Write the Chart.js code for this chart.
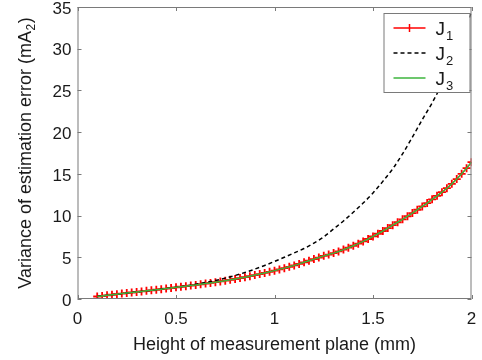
<!DOCTYPE html>
<html>
<head>
<meta charset="utf-8">
<script src="https://cdn.jsdelivr.net/npm/chart.js@4.4.1/dist/chart.umd.min.js"></script>
<style>
  html, body { margin: 0; padding: 0; background: #fff; }
  #wrap { width: 482px; height: 360px; }
</style>
</head>
<body>
<div id="wrap"><canvas id="chart" width="482" height="360"></canvas></div>
<script>
// ===== DATA =====
const xFine = [
  0.100, 0.125, 0.150, 0.175, 0.200, 0.225, 0.250, 0.275, 0.300, 0.325,
  0.350, 0.375, 0.400, 0.425, 0.450, 0.475, 0.500, 0.525, 0.550, 0.575,
  0.600, 0.625, 0.650, 0.675, 0.700, 0.725, 0.750, 0.775, 0.800, 0.825,
  0.850, 0.875, 0.900, 0.925, 0.950, 0.975, 1.000, 1.025, 1.050, 1.075,
  1.100, 1.125, 1.150, 1.175, 1.200, 1.225, 1.250, 1.275, 1.300, 1.325,
  1.350, 1.375, 1.400, 1.425, 1.450, 1.475, 1.500, 1.525, 1.550, 1.575,
  1.600, 1.625, 1.650, 1.675, 1.700, 1.725, 1.750, 1.775, 1.800, 1.825,
  1.850, 1.875, 1.900, 1.925, 1.950, 1.975, 2.000
];
const j1 = [
  0.30, 0.37, 0.44, 0.51, 0.58, 0.65, 0.72, 0.78, 0.85, 0.91,
  0.98, 1.04, 1.11, 1.18, 1.25, 1.32, 1.40, 1.47, 1.54, 1.61,
  1.69, 1.77, 1.85, 1.93, 2.02, 2.11, 2.20, 2.30, 2.40, 2.51,
  2.62, 2.74, 2.87, 2.99, 3.12, 3.26, 3.40, 3.55, 3.70, 3.86,
  4.03, 4.21, 4.40, 4.59, 4.78, 4.97, 5.17, 5.33, 5.50, 5.70,
  5.92, 6.15, 6.38, 6.63, 6.90, 7.19, 7.50, 7.82, 8.15, 8.50,
  8.85, 9.20, 9.55, 9.92, 10.30, 10.70, 11.10, 11.50, 11.95, 12.37,
  12.80, 13.28, 13.80, 14.38, 15.00, 15.68, 16.40
];
// J3 lies on top of J1 in the picture
const j3 = j1.slice();

const xCoarse = [
  0.10, 0.15, 0.20, 0.25, 0.30, 0.35, 0.40, 0.45, 0.50, 0.55,
  0.60, 0.65, 0.70, 0.75, 0.80, 0.85, 0.90, 0.95, 1.00, 1.05,
  1.10, 1.15, 1.20, 1.25, 1.30, 1.35, 1.40, 1.45, 1.50, 1.55,
  1.60, 1.65, 1.70, 1.75, 1.80, 1.85, 1.90, 1.95, 2.00
];
const j2 = [
  0.30, 0.44, 0.58, 0.72, 0.85, 0.98, 1.11, 1.25, 1.40, 1.57,
  1.76, 1.98, 2.22, 2.50, 2.82, 3.18, 3.58, 4.02, 4.50, 5.00,
  5.52, 6.05, 6.70, 7.45, 8.40, 9.35, 10.40, 11.50, 12.70, 14.10,
  15.60, 17.40, 19.40, 21.50, 23.50, 25.80, 28.50, 31.30, 34.40
];

const xTicks = [0, 0.5, 1, 1.5, 2];
const yTicks = [0, 5, 10, 15, 20, 25, 30, 35];

const FONT = '"Liberation Sans", Arial, Helvetica, sans-serif';
const TEXT = '#1a1a1a';
const FRAME = '#7a7a7a';
const GREEN = '#3cb43c';

const pts = (xs, ys) => xs.map((x, i) => ({ x, y: ys[i] }));

// ===== PLUGIN: box frame + inward ticks (MATLAB style) =====
const framePlugin = {
  id: 'frame',
  afterDraw(chart) {
    const { ctx, chartArea: a, scales: { x, y } } = chart;
    ctx.save();
    ctx.strokeStyle = FRAME;
    ctx.lineWidth = 1;
    ctx.strokeRect(a.left + 0.5, a.top + 0.5, a.right - a.left - 1, a.bottom - a.top - 1);
    const len = 4;
    ctx.beginPath();
    xTicks.forEach(v => {
      const px = Math.round(x.getPixelForValue(v)) + 0.5;
      ctx.moveTo(px, a.bottom); ctx.lineTo(px, a.bottom - len);
      ctx.moveTo(px, a.top); ctx.lineTo(px, a.top + len);
    });
    yTicks.forEach(v => {
      const py = Math.round(y.getPixelForValue(v)) + 0.5;
      ctx.moveTo(a.left, py); ctx.lineTo(a.left + len, py);
      ctx.moveTo(a.right, py); ctx.lineTo(a.right - len, py);
    });
    ctx.stroke();
    ctx.restore();
  }
};

// ===== PLUGIN: y title with a real subscript =====
const yTitlePlugin = {
  id: 'yTitle',
  afterDraw(chart) {
    const { ctx, chartArea: a } = chart;
    const main = 'Variance of estimation error (mA';
    ctx.save();
    ctx.fillStyle = TEXT;
    ctx.textBaseline = 'alphabetic';
    ctx.font = '18px ' + FONT;
    const w1 = ctx.measureText(main).width;
    const w3 = ctx.measureText(')').width;
    ctx.font = '12px ' + FONT;
    const w2 = ctx.measureText('2').width;
    const total = w1 + w2 + w3 + 1;
    ctx.translate(31, (a.top + a.bottom) / 2);
    ctx.rotate(-Math.PI / 2);
    let cx = -total / 2;
    ctx.font = '18px ' + FONT;
    ctx.fillText(main, cx, 0);
    cx += w1 + 0.5;
    ctx.font = '12px ' + FONT;
    ctx.fillText('2', cx, 4);
    cx += w2 + 0.5;
    ctx.font = '18px ' + FONT;
    ctx.fillText(')', cx, 0);
    ctx.restore();
  }
};

// ===== PLUGIN: legend with subscripts =====
const legendPlugin = {
  id: 'subLegend',
  afterDraw(chart) {
    const { ctx, chartArea: a } = chart;
    const box = { l: a.right - 88, t: a.top + 6, w: 86, h: 79 };
    const rows = [
      { sub: '1', color: 'red', dash: [], cross: true },
      { sub: '2', color: '#000', dash: [4, 3], cross: false },
      { sub: '3', color: GREEN, dash: [], cross: false }
    ];
    ctx.save();
    ctx.fillStyle = '#fff';
    ctx.fillRect(box.l, box.t, box.w, box.h);
    ctx.strokeStyle = FRAME;
    ctx.lineWidth = 1;
    ctx.strokeRect(box.l + 0.5, box.t + 0.5, box.w, box.h);
    rows.forEach((r, i) => {
      const cy = box.t + 15 + i * 25;
      const x0 = box.l + 10, x1 = box.l + 42;
      ctx.strokeStyle = r.color;
      ctx.lineWidth = 1.3;
      ctx.setLineDash(r.dash);
      ctx.beginPath();
      ctx.moveTo(x0, cy); ctx.lineTo(x1, cy);
      ctx.stroke();
      ctx.setLineDash([]);
      if (r.cross) {
        const mx = (x0 + x1) / 2;
        ctx.lineWidth = 1.5;
        ctx.beginPath();
        ctx.moveTo(mx, cy - 4); ctx.lineTo(mx, cy + 4);
        ctx.stroke();
      }
      ctx.fillStyle = TEXT;
      ctx.textBaseline = 'alphabetic';
      ctx.font = '19px ' + FONT;
      ctx.fillText('J', box.l + 52, cy + 7);
      const jw = ctx.measureText('J').width;
      ctx.font = '13px ' + FONT;
      ctx.fillText(r.sub, box.l + 52 + jw + 1, cy + 12);
    });
    ctx.restore();
  }
};

new Chart(document.getElementById('chart'), {
  type: 'scatter',
  data: {
    datasets: [
      {
        label: 'J1',
        data: pts(xFine, j1),
        showLine: true,
        borderColor: 'red',
        borderWidth: 1.2,
        pointStyle: 'cross',
        pointRadius: 4,
        pointBorderColor: 'red',
        pointBorderWidth: 1.8,
        order: 3
      },
      {
        label: 'J2',
        data: pts(xCoarse, j2),
        showLine: true,
        borderColor: '#000',
        borderWidth: 1.5,
        borderDash: [4, 3],
        pointRadius: 0,
        cubicInterpolationMode: 'monotone',
        order: 2
      },
      {
        label: 'J3',
        data: pts(xFine, j3),
        showLine: true,
        borderColor: GREEN,
        borderWidth: 1.5,
        pointRadius: 0,
        order: 1
      }
    ]
  },
  options: {
    responsive: false,
    animation: false,
    layout: { padding: { top: 7, right: 10.5, left: 0, bottom: 0 } },
    plugins: {
      legend: { display: false },
      tooltip: { enabled: false }
    },
    scales: {
      x: {
        type: 'linear',
        min: 0, max: 2,
        afterFit: s => { s.height = 61; s.paddingLeft = 0; s.paddingRight = 0; },
        afterBuildTicks: s => { s.ticks = xTicks.map(v => ({ value: v })); },
        grid: { display: false, drawTicks: false },
        border: { display: false },
        ticks: {
          color: TEXT, font: { family: FONT, size: 17 }, padding: 10, maxRotation: 0,
          callback: v => String(v)
        },
        title: {
          display: true,
          text: 'Height of measurement plane (mm)',
          color: TEXT,
          font: { family: FONT, size: 18 },
          padding: { bottom: 4 }
        }
      },
      y: {
        type: 'linear',
        min: 0, max: 35,
        afterFit: s => { s.width = 77.5; s.paddingTop = 0; s.paddingBottom = 0; },
        afterBuildTicks: s => { s.ticks = yTicks.map(v => ({ value: v })); },
        grid: { display: false, drawTicks: false },
        border: { display: false },
        ticks: { color: TEXT, font: { family: FONT, size: 17 }, padding: 6, labelOffset: 2 },
        title: { display: false }
      }
    }
  },
  plugins: [framePlugin, yTitlePlugin, legendPlugin]
});
</script>
</body>
</html>
